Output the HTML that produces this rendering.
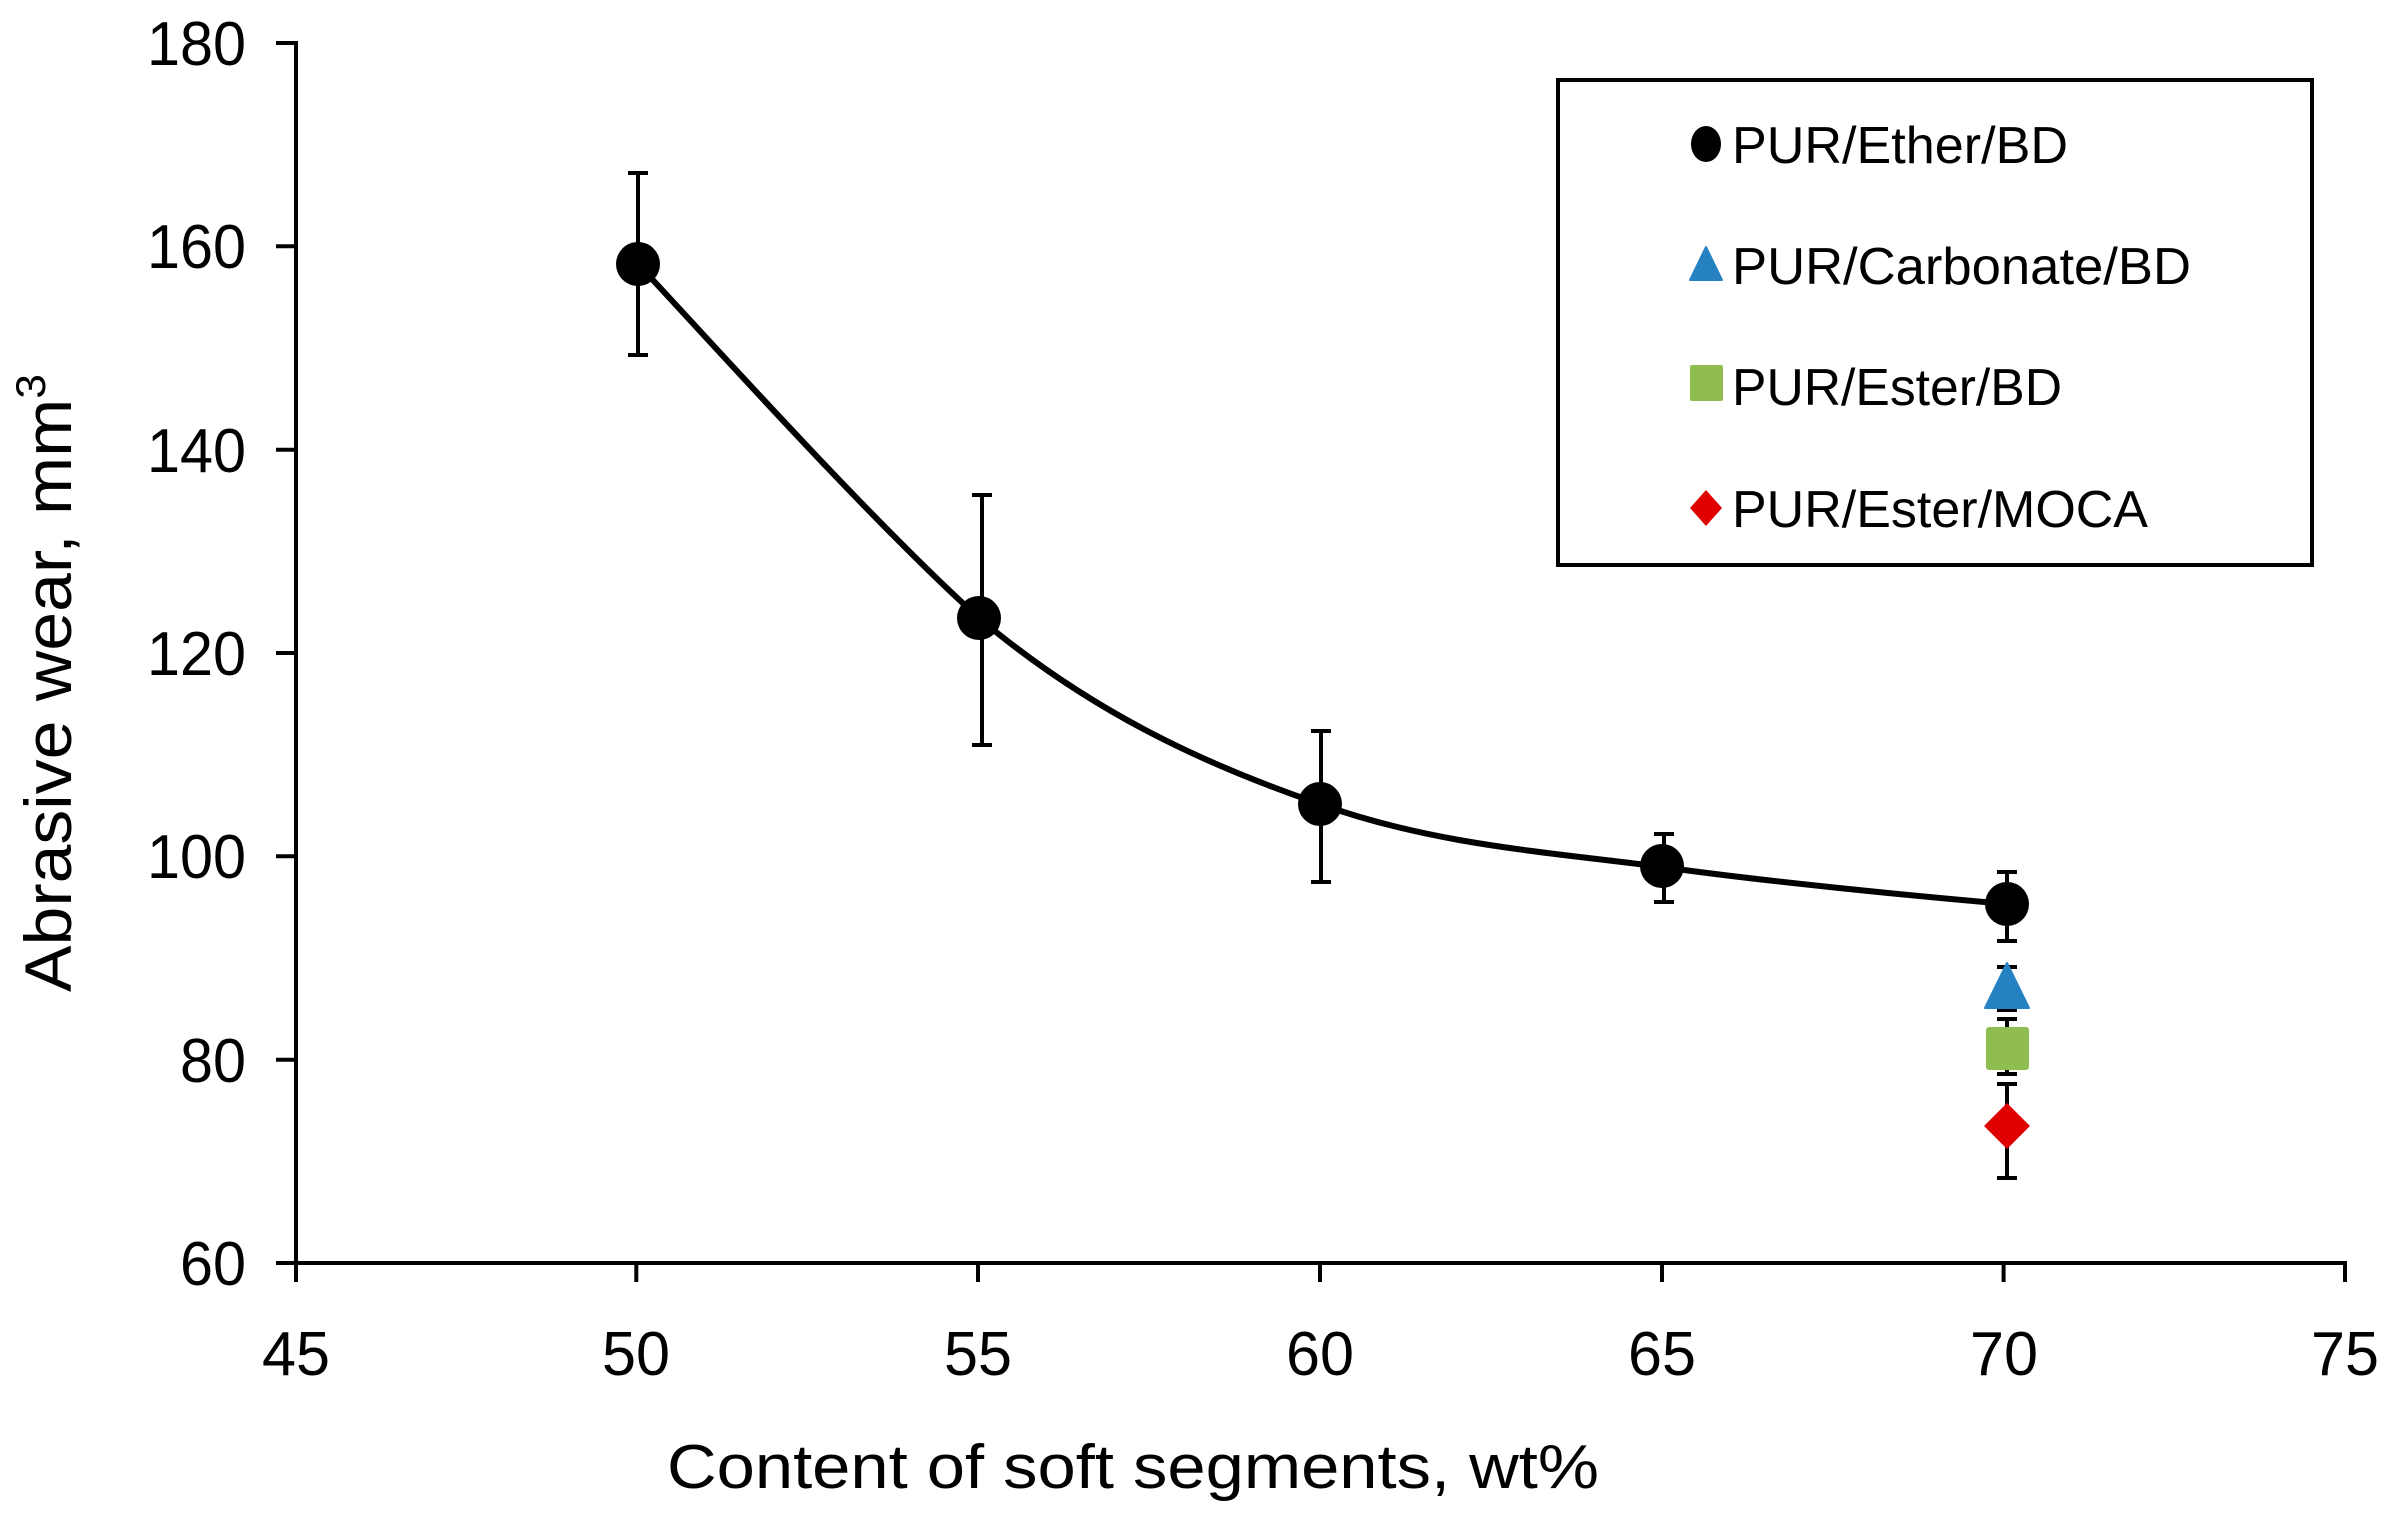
<!DOCTYPE html>
<html><head><meta charset="utf-8"><style>html,body{margin:0;padding:0;background:#fff}svg{display:block}</style></head>
<body>
<svg width="2393" height="1516" viewBox="0 0 2393 1516" xmlns="http://www.w3.org/2000/svg" font-family="Liberation Sans, Arial, sans-serif">
<rect width="2393" height="1516" fill="#fff"/>
<g stroke="#000" stroke-width="4" fill="none">
<line x1="296" y1="41" x2="296" y2="1265"/>
<line x1="294" y1="1263" x2="2347" y2="1263"/>
<line x1="276" y1="43" x2="296" y2="43"/>
<line x1="276" y1="246.3" x2="296" y2="246.3"/>
<line x1="276" y1="449.7" x2="296" y2="449.7"/>
<line x1="276" y1="653" x2="296" y2="653"/>
<line x1="276" y1="856.3" x2="296" y2="856.3"/>
<line x1="276" y1="1059.7" x2="296" y2="1059.7"/>
<line x1="276" y1="1263" x2="296" y2="1263"/>
<line x1="296" y1="1263" x2="296" y2="1282"/>
<line x1="636.3" y1="1263" x2="636.3" y2="1282"/>
<line x1="978" y1="1263" x2="978" y2="1282"/>
<line x1="1320" y1="1263" x2="1320" y2="1282"/>
<line x1="1662" y1="1263" x2="1662" y2="1282"/>
<line x1="2003.6" y1="1263" x2="2003.6" y2="1282"/>
<line x1="2345" y1="1263" x2="2345" y2="1282"/>
</g>
<g font-size="62" fill="#000" text-anchor="end">
<text x="246" y="65" textLength="99" lengthAdjust="spacingAndGlyphs">180</text>
<text x="246" y="268" textLength="99" lengthAdjust="spacingAndGlyphs">160</text>
<text x="246" y="472" textLength="99" lengthAdjust="spacingAndGlyphs">140</text>
<text x="246" y="675" textLength="99" lengthAdjust="spacingAndGlyphs">120</text>
<text x="246" y="878" textLength="99" lengthAdjust="spacingAndGlyphs">100</text>
<text x="246" y="1082" textLength="66" lengthAdjust="spacingAndGlyphs">80</text>
<text x="246" y="1285" textLength="66" lengthAdjust="spacingAndGlyphs">60</text>
</g>
<g font-size="62" fill="#000" text-anchor="middle">
<text x="296" y="1375" textLength="68" lengthAdjust="spacingAndGlyphs">45</text>
<text x="636" y="1375" textLength="68" lengthAdjust="spacingAndGlyphs">50</text>
<text x="978" y="1375" textLength="68" lengthAdjust="spacingAndGlyphs">55</text>
<text x="1320" y="1375" textLength="68" lengthAdjust="spacingAndGlyphs">60</text>
<text x="1662" y="1375" textLength="68" lengthAdjust="spacingAndGlyphs">65</text>
<text x="2004" y="1375" textLength="68" lengthAdjust="spacingAndGlyphs">70</text>
<text x="2345" y="1375" textLength="68" lengthAdjust="spacingAndGlyphs">75</text>
</g>
<text x="667" y="1488" font-size="62" textLength="932" lengthAdjust="spacingAndGlyphs">Content of soft segments, wt%</text>
<text transform="translate(71,683) rotate(-90)" text-anchor="middle" font-size="66" textLength="618" lengthAdjust="spacingAndGlyphs">Abrasive wear, mm<tspan font-size="42" dy="-26">3</tspan></text>
<path d="M638,264 C700,330 870,520 979,618 C1092,713 1206,765 1320,804 C1434,845 1548,852 1662,867 C1776,883 1947,899 2007,904" fill="none" stroke="#000" stroke-width="6"/>
<g stroke="#000" stroke-width="4">
<line x1="638" y1="173" x2="638" y2="355"/><line x1="628" y1="173" x2="648" y2="173"/><line x1="628" y1="355" x2="648" y2="355"/>
<line x1="982" y1="495" x2="982" y2="745"/><line x1="972" y1="495" x2="992" y2="495"/><line x1="972" y1="745" x2="992" y2="745"/>
<line x1="1321" y1="731" x2="1321" y2="882"/><line x1="1311" y1="731" x2="1331" y2="731"/><line x1="1311" y1="882" x2="1331" y2="882"/>
<line x1="1664" y1="834" x2="1664" y2="902"/><line x1="1654" y1="834" x2="1674" y2="834"/><line x1="1654" y1="902" x2="1674" y2="902"/>
<line x1="2007" y1="872" x2="2007" y2="941"/><line x1="1997" y1="872" x2="2017" y2="872"/><line x1="1997" y1="941" x2="2017" y2="941"/>
<line x1="2007" y1="967" x2="2007" y2="1010"/><line x1="1997" y1="967" x2="2017" y2="967"/><line x1="1997" y1="1010" x2="2017" y2="1010"/>
<line x1="2007" y1="1019" x2="2007" y2="1074"/><line x1="1997" y1="1019" x2="2017" y2="1019"/><line x1="1997" y1="1074" x2="2017" y2="1074"/>
<line x1="2007" y1="1084" x2="2007" y2="1178"/><line x1="1997" y1="1084" x2="2017" y2="1084"/><line x1="1997" y1="1178" x2="2017" y2="1178"/>
</g>
<g fill="#000">
<circle cx="638" cy="264" r="22"/>
<circle cx="979" cy="618" r="22"/>
<circle cx="1320" cy="804" r="22"/>
<circle cx="1662" cy="866" r="22"/>
<circle cx="2007" cy="904" r="22"/>
</g>
<polygon points="2007,963 2029,1008 1985,1008" fill="#2581c1" stroke="#2581c1" stroke-width="2" stroke-linejoin="round"/>
<rect x="1986" y="1027" width="43" height="43" rx="3" fill="#8fbd50"/>
<polygon points="2007,1103 2030,1126 2007,1149 1984,1126" fill="#e10000"/>
<rect x="1558" y="80" width="754" height="485" fill="#fff" stroke="#000" stroke-width="4"/>
<ellipse cx="1706" cy="144" rx="15" ry="18" fill="#000"/>
<polygon points="1706,247 1722,280 1690,280" fill="#2581c1" stroke="#2581c1" stroke-width="2" stroke-linejoin="round"/>
<rect x="1690" y="365" width="33" height="36" rx="2" fill="#8fbd50"/>
<polygon points="1706,490 1722,508 1706,526 1690,508" fill="#e10000"/>
<g font-size="52" fill="#000">
<text x="1732" y="163" textLength="336" lengthAdjust="spacingAndGlyphs">PUR/Ether/BD</text>
<text x="1732" y="284" textLength="459" lengthAdjust="spacingAndGlyphs">PUR/Carbonate/BD</text>
<text x="1732" y="405" textLength="330" lengthAdjust="spacingAndGlyphs">PUR/Ester/BD</text>
<text x="1732" y="527" textLength="416" lengthAdjust="spacingAndGlyphs">PUR/Ester/MOCA</text>
</g>
</svg>
</body></html>
